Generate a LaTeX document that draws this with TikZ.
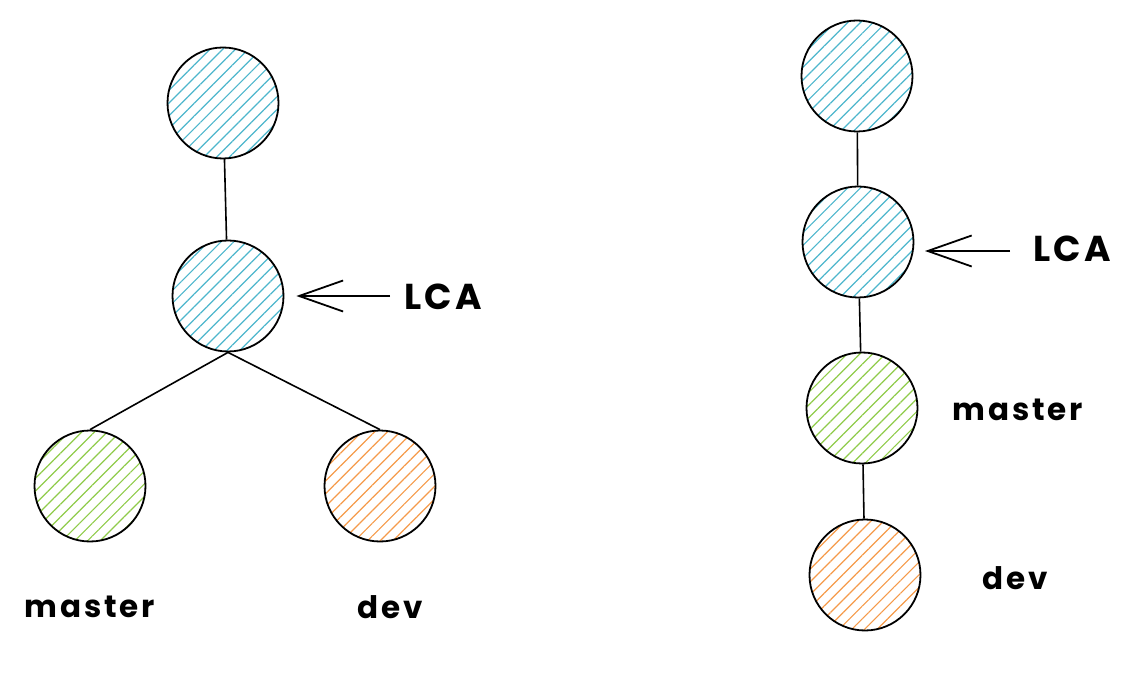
\documentclass[tikz,border=0pt]{standalone}
\usepackage{fontspec}
\setmainfont{Poppins}[LetterSpace=9]
\usetikzlibrary{patterns.meta,arrows.meta}
\definecolor{hblue}{HTML}{4DB6CC}
\definecolor{hgreen}{HTML}{8FCB4A}
\definecolor{horange}{HTML}{F59A4A}
\tikzset{
  commit/.style={circle, draw=black, line width=1.8pt, minimum size=111pt, inner sep=0pt,
    pattern={Lines[angle=45, distance=9pt, line width=1.2pt]}},
  cblue/.style={commit, pattern color=hblue},
  cgreen/.style={commit, pattern color=hgreen},
  corange/.style={commit, pattern color=horange},
  edge/.style={line width=1.6pt},
  arr/.style={line width=1.8pt, shorten >=12pt, -{Straight Barb[length=44pt, width=31pt, line width=1.8pt]}},
  lbl/.style={font=\bfseries\fontsize{31}{34}\selectfont, inner sep=0pt},
  lcalbl/.style={font=\bfseries\fontsize{36}{40}\selectfont, inner sep=0pt}
}
\begin{document}
\begin{tikzpicture}[x=1pt, y=-1pt]
\useasboundingbox (0,0) rectangle (1146,692);
% left tree
\node[cblue] (t1) at (223,103) {};
\node[cblue] (m1) at (228,296) {};
\node[cgreen] (ma1) at (90,486) {};
\node[corange] (d1) at (380,486) {};
\draw[edge] (t1) -- (m1);
\draw[edge] (m1.south) -- (ma1.north);
\draw[edge] (m1.south) -- (d1.north);
\coordinate (s1) at (390,296);
\draw[arr] (s1) -- (m1.east);
\node[lcalbl] (lca1) at (443,297) {LCA};
\node[lbl] (lma1) at (90,607) {master};
\node[lbl] (ld1) at (390,607) {dev};
% right chain
\node[cblue] (t2) at (857,76) {};
\node[cblue] (m2) at (858,242) {};
\node[cgreen] (ma2) at (862,408) {};
\node[corange] (d2) at (865,575) {};
\draw[edge] (t2) -- (m2);
\draw[edge] (m2) -- (ma2);
\draw[edge] (ma2) -- (d2);
\coordinate (s2) at (1010,251);
\coordinate (e2) at (915,251);
\draw[arr, shorten >=10pt] (s2) -- (e2);
\node[lcalbl] (lca2) at (1072,249) {LCA};
\node[lbl] (lma2) at (1018,410) {master};
\node[lbl] (ld2) at (1015,578) {dev};
\end{tikzpicture}
\end{document}
